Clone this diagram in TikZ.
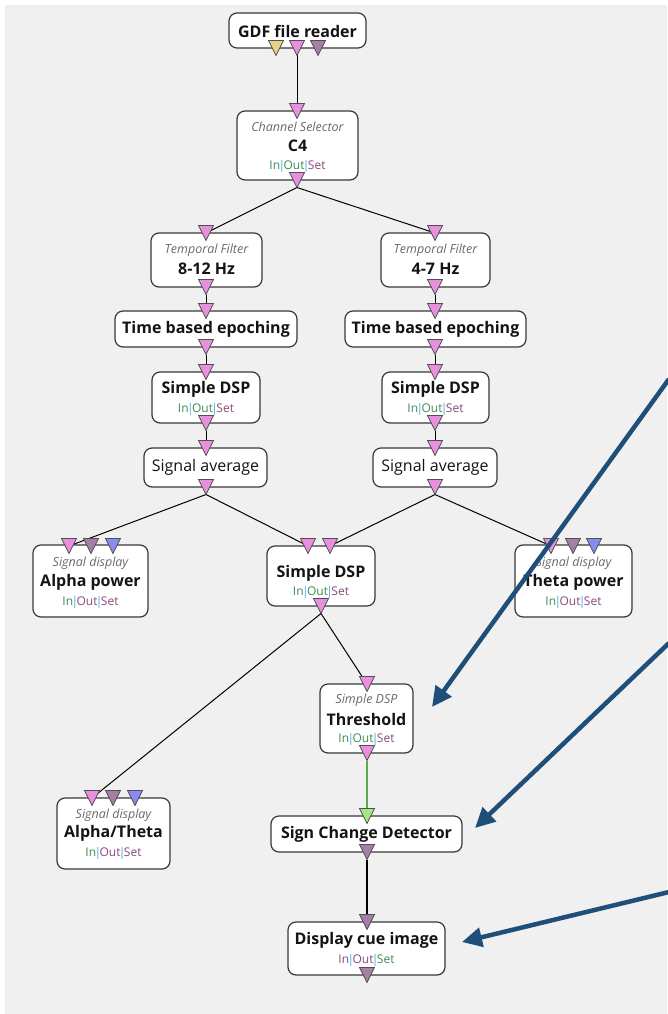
\documentclass[tikz,border=0pt]{standalone}
\usepackage{fontspec}
\setmainfont{Open Sans}
\usetikzlibrary{arrows.meta,calc}

\definecolor{canvas}{HTML}{F0F0F0}
\definecolor{boxline}{HTML}{383838}
\definecolor{portline}{HTML}{505050}
\definecolor{portpink}{HTML}{E890DE}
\definecolor{portmauve}{HTML}{A67FA6}
\definecolor{portyellow}{HTML}{E8D08A}
\definecolor{portblue}{HTML}{8A8AF0}
\definecolor{portgreen}{HTML}{A4E884}
\definecolor{linkgreen}{HTML}{5FA84E}
\definecolor{kindgray}{HTML}{6A6A6A}
\definecolor{iogreen}{HTML}{3F8A55}
\definecolor{iomauve}{HTML}{8A4A78}
\definecolor{iobar}{HTML}{4AA8E0}
\definecolor{calloutblue}{HTML}{1F4E79}

% In|Out|Set label with per-part colours
\newcommand{\iolabel}[3]{{\color{#1}In}\kern-1.6pt{\color{iobar}|}\kern-1.6pt{\color{#2}Out}\kern-1.6pt{\color{iobar}|}\kern-1.6pt{\color{#3}Set}}
% downward port triangle centred on a named coordinate
\newcommand{\porttri}[2]{\path[draw=portline, line width=0.8pt, fill=#2, shift={(#1)}] (-7.5,-7.5) -- (7.5,-7.5) -- (0,7.5) -- cycle;}

\tikzset{
  box/.style={draw=boxline, line width=1.2pt, fill=white, rounded corners=8pt, inner sep=0pt},
  title/.style={font=\bfseries\fontsize{16}{18}\selectfont, text=black!92, inner sep=0pt},
  plain/.style={font=\fontsize{16}{18}\selectfont, text=black!92, inner sep=0pt},
  kind/.style={font=\itshape\fontsize{12.5}{14}\selectfont, text=kindgray, inner sep=0pt},
  io/.style={font=\fontsize{12}{14}\selectfont, inner sep=0pt},
  link/.style={draw=black, line width=1pt},
  greenlink/.style={draw=linkgreen, line width=1.3pt},
  callout/.style={draw=calloutblue, line width=4.5pt, -{Triangle[length=20pt,width=19pt]}}
}

\begin{document}
\begin{tikzpicture}[x=1pt,y=-1pt]
\useasboundingbox (0,0) rectangle (667,1014);
\fill[canvas] (5,5) rectangle (667,1014);

% ---------- port positions ----------
\coordinate (gdf-o1) at (276,48);
\coordinate (gdf-o2) at (297,48);
\coordinate (gdf-o3) at (318,48);
\coordinate (cs-i) at (297,111);
\coordinate (cs-o) at (297,180);
\coordinate (tf1-i) at (206,233);
\coordinate (tf1-o) at (206,287);
\coordinate (tbe1-i) at (206,311);
\coordinate (tbe1-o) at (206,347);
\coordinate (dsp1-i) at (206,372);
\coordinate (dsp1-o) at (206,423);
\coordinate (avg1-i) at (206,448);
\coordinate (avg1-o) at (206,487);
\coordinate (tf2-i) at (435,233);
\coordinate (tf2-o) at (435,287);
\coordinate (tbe2-i) at (435,311);
\coordinate (tbe2-o) at (435,347);
\coordinate (dsp2-i) at (435,372);
\coordinate (dsp2-o) at (435,423);
\coordinate (avg2-i) at (435,448);
\coordinate (avg2-o) at (435,487);
\coordinate (ap-i1) at (69,546);
\coordinate (ap-i2) at (91,546);
\coordinate (ap-i3) at (113,546);
\coordinate (tp-i1) at (551,546);
\coordinate (tp-i2) at (573,546);
\coordinate (tp-i3) at (594,546);
\coordinate (dsp3-i1) at (308,546);
\coordinate (dsp3-i2) at (330,546);
\coordinate (dsp3-o) at (321,606);
\coordinate (th-i) at (367,684);
\coordinate (th-o) at (367,753);
\coordinate (scd-i) at (367,816);
\coordinate (scd-o) at (367,852);
\coordinate (dci-i) at (367,922);
\coordinate (dci-o) at (367,975);
\coordinate (at-i1) at (92,798);
\coordinate (at-i2) at (113,798);
\coordinate (at-i3) at (135,798);

% ---------- connectors ----------
\draw[link] ([yshift=-7.5pt]gdf-o2) -- (cs-i);
\draw[link] ([yshift=-7.5pt]cs-o) -- (tf1-i);
\draw[link] ([yshift=-7.5pt]cs-o) -- (tf2-i);
\draw[link] ([yshift=-7.5pt]tf1-o) -- (tbe1-i);
\draw[link] ([yshift=-7.5pt]tbe1-o) -- (dsp1-i);
\draw[link] ([yshift=-7.5pt]dsp1-o) -- (avg1-i);
\draw[link] ([yshift=-7.5pt]tf2-o) -- (tbe2-i);
\draw[link] ([yshift=-7.5pt]tbe2-o) -- (dsp2-i);
\draw[link] ([yshift=-7.5pt]dsp2-o) -- (avg2-i);
\draw[link] ([yshift=-7.5pt]avg1-o) -- (ap-i1);
\draw[link] ([yshift=-7.5pt]avg1-o) -- (dsp3-i1);
\draw[link] ([yshift=-7.5pt]avg2-o) -- (dsp3-i2);
\draw[link] ([yshift=-7.5pt]avg2-o) -- (tp-i1);
\draw[link] ([yshift=-7.5pt]dsp3-o) -- (th-i);
\draw[link] ([yshift=-7.5pt]dsp3-o) -- (at-i1);
\draw[greenlink] ([yshift=-7.5pt]th-o) -- (scd-i);
\draw[link, line width=1.3pt] ([yshift=-7.5pt]scd-o) -- (dci-i);

% ---------- boxes ----------
\node[box, minimum width=137pt, minimum height=35pt] (gdf) at (297.5,30.5) {};
\node[box, minimum width=121pt, minimum height=69pt] (cs) at (297.5,145.5) {};
\node[box, minimum width=111pt, minimum height=54pt] (tf1) at (206.5,260) {};
\node[box, minimum width=182pt, minimum height=36pt] (tbe1) at (206,329) {};
\node[box, minimum width=108pt, minimum height=51pt] (dsp1) at (206,397.5) {};
\node[box, minimum width=123pt, minimum height=39pt] (avg1) at (205.5,467.5) {};
\node[box, minimum width=109pt, minimum height=54pt] (tf2) at (435.5,260) {};
\node[box, minimum width=181pt, minimum height=36pt] (tbe2) at (435.5,329) {};
\node[box, minimum width=107pt, minimum height=51pt] (dsp2) at (435.5,397.5) {};
\node[box, minimum width=124pt, minimum height=39pt] (avg2) at (435,467.5) {};
\node[box, minimum width=115pt, minimum height=72pt] (ap) at (90.5,581) {};
\node[box, minimum width=117pt, minimum height=72pt] (tp) at (573.5,581) {};
\node[box, minimum width=108pt, minimum height=60pt] (dsp3) at (321,576) {};
\node[box, minimum width=93pt, minimum height=69pt] (th) at (366.5,718.5) {};
\node[box, minimum width=191pt, minimum height=36pt] (scd) at (366.5,834) {};
\node[box, minimum width=157pt, minimum height=53pt] (dci) at (366.5,948.5) {};
\node[box, minimum width=113pt, minimum height=71pt] (at) at (113.5,833.5) {};

% ---------- texts ----------
\node[title] (gdf-t) at (297.5,31) {GDF file reader};

\node[kind] (cs-k) at (297.5,127) {Channel Selector};
\node[title] (cs-t) at (297.5,146) {C4};
\node[io] (cs-io) at (297.5,166) {\iolabel{iogreen}{iogreen}{iomauve}};

\node[kind] (tf1-k) at (206.5,250) {Temporal Filter};
\node[title] (tf1-t) at (206.5,269) {8-12 Hz};
\node[title] (tbe1-t) at (206,329) {Time based epoching};
\node[title] (dsp1-t) at (206,389) {Simple DSP};
\node[io] (dsp1-io) at (206,409) {\iolabel{iogreen}{iogreen}{iomauve}};
\node[plain] (avg1-t) at (205.5,467) {Signal average};

\node[kind] (tf2-k) at (435.5,250) {Temporal Filter};
\node[title] (tf2-t) at (435.5,269) {4-7 Hz};
\node[title] (tbe2-t) at (435.5,329) {Time based epoching};
\node[title] (dsp2-t) at (435.5,389) {Simple DSP};
\node[io] (dsp2-io) at (435.5,409) {\iolabel{iogreen}{iogreen}{iomauve}};
\node[plain] (avg2-t) at (435,467) {Signal average};

\node[kind] (ap-k) at (90.5,563) {Signal display};
\node[title] (ap-t) at (90.5,582) {Alpha power};
\node[io] (ap-io) at (90.5,602) {\iolabel{iogreen}{iomauve}{iomauve}};

\node[kind] (tp-k) at (573.5,563) {Signal display};
\node[title] (tp-t) at (573.5,582) {Theta power};
\node[io] (tp-io) at (573.5,602) {\iolabel{iogreen}{iomauve}{iomauve}};

\node[title] (dsp3-t) at (321,573) {Simple DSP};
\node[io] (dsp3-io) at (321,592) {\iolabel{iogreen}{iogreen}{iomauve}};

\node[kind] (th-k) at (366.5,700) {Simple DSP};
\node[title] (th-t) at (366.5,719) {Threshold};
\node[io] (th-io) at (366.5,739) {\iolabel{iogreen}{iogreen}{iomauve}};

\node[title] (scd-t) at (366.5,834) {Sign Change Detector};

\node[title] (dci-t) at (366.5,940) {Display cue image};
\node[io] (dci-io) at (366.5,960) {\iolabel{iomauve}{iomauve}{iogreen}};

\node[kind] (at-k) at (113.5,815) {Signal display};
\node[title] (at-t) at (113.5,833) {Alpha/Theta};
\node[io] (at-io) at (113.5,853) {\iolabel{iogreen}{iomauve}{iomauve}};

% ---------- ports ----------
\porttri{gdf-o1}{portyellow}
\porttri{gdf-o2}{portpink}
\porttri{gdf-o3}{portmauve}
\porttri{cs-i}{portpink}
\porttri{cs-o}{portpink}
\porttri{tf1-i}{portpink}
\porttri{tf1-o}{portpink}
\porttri{tbe1-i}{portpink}
\porttri{tbe1-o}{portpink}
\porttri{dsp1-i}{portpink}
\porttri{dsp1-o}{portpink}
\porttri{avg1-i}{portpink}
\porttri{avg1-o}{portpink}
\porttri{tf2-i}{portpink}
\porttri{tf2-o}{portpink}
\porttri{tbe2-i}{portpink}
\porttri{tbe2-o}{portpink}
\porttri{dsp2-i}{portpink}
\porttri{dsp2-o}{portpink}
\porttri{avg2-i}{portpink}
\porttri{avg2-o}{portpink}
\porttri{ap-i1}{portpink}
\porttri{ap-i2}{portmauve}
\porttri{ap-i3}{portblue}
\porttri{tp-i1}{portpink}
\porttri{tp-i2}{portmauve}
\porttri{tp-i3}{portblue}
\porttri{dsp3-i1}{portpink}
\porttri{dsp3-i2}{portpink}
\porttri{dsp3-o}{portpink}
\porttri{th-i}{portpink}
\porttri{th-o}{portpink}
\porttri{scd-i}{portgreen}
\porttri{scd-o}{portmauve}
\porttri{dci-i}{portmauve}
\porttri{dci-o}{portmauve}
\porttri{at-i1}{portpink}
\porttri{at-i2}{portmauve}
\porttri{at-i3}{portblue}

% ---------- callout arrows ----------
\coordinate (c1-from) at (669,379);
\coordinate (c1-to) at (432,707);
\coordinate (c2-from) at (669,643);
\coordinate (c2-to) at (475,828);
\coordinate (c3-from) at (669,892);
\coordinate (c3-to) at (462,942);
\draw[callout] (c1-from) -- (c1-to);
\draw[callout] (c2-from) -- (c2-to);
\draw[callout] (c3-from) -- (c3-to);
\end{tikzpicture}
\end{document}
